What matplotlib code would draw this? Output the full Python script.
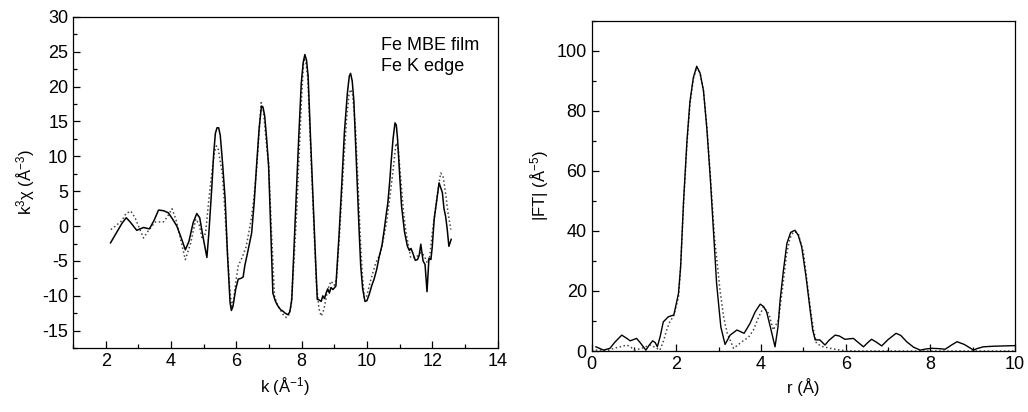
import matplotlib
matplotlib.use('Agg')
import matplotlib.pyplot as plt
from matplotlib.ticker import MultipleLocator

plt.rcParams['font.family'] = ['Liberation Sans', 'DejaVu Sans']
plt.rcParams['mathtext.fontset'] = 'custom'
plt.rcParams['mathtext.rm'] = 'Liberation Sans'
plt.rcParams['mathtext.it'] = 'Liberation Sans'
plt.rcParams['mathtext.default'] = 'regular'
plt.rcParams['axes.unicode_minus'] = False

# k-space, experiment (solid)
k_exp = [2.15, 2.35, 2.5, 2.63, 2.75, 2.95, 3.16, 3.34, 3.48, 3.62, 3.78, 3.92, 4.05,
         4.18, 4.3, 4.44, 4.55, 4.68, 4.79, 4.88, 4.98, 5.1, 5.16, 5.25, 5.31, 5.36,
         5.41, 5.46, 5.51, 5.58, 5.66, 5.73, 5.81, 5.85, 5.9, 5.98, 6.06, 6.14, 6.21,
         6.26, 6.36, 6.47, 6.55, 6.62, 6.7, 6.77, 6.82, 6.87, 6.93, 6.99, 7.05, 7.12,
         7.2, 7.28, 7.36, 7.43, 7.5, 7.58, 7.64, 7.7, 7.76, 7.83, 7.91, 7.99, 8.05,
         8.1, 8.15, 8.2, 8.27, 8.35, 8.42, 8.48, 8.54, 8.6, 8.65, 8.7, 8.75, 8.8,
         8.85, 8.9, 8.96, 9.05, 9.15, 9.23, 9.31, 9.4, 9.46, 9.5, 9.55, 9.6, 9.66,
         9.71, 9.76, 9.81, 9.87, 9.94, 10.0, 10.07, 10.15, 10.22, 10.3, 10.38, 10.46,
         10.53, 10.6, 10.64, 10.7, 10.74, 10.8, 10.86, 10.9, 10.94, 11.0, 11.06, 11.15,
         11.24, 11.3, 11.35, 11.4, 11.48, 11.55, 11.6, 11.65, 11.72, 11.78, 11.84,
         11.9, 11.96, 12.0, 12.06, 12.14, 12.21, 12.26, 12.31, 12.36, 12.41, 12.46,
         12.51, 12.58]
chi_exp = [-2.4, -0.8, 0.4, 1.2, 0.6, -0.6, -0.2, -0.4, 0.8, 2.3, 2.2, 1.9, 1.0,
           0.0, -1.5, -3.4, -2.2, 0.5, 1.8, 1.2, -1.5, -4.5, -1.0, 5.5, 10.5, 13.3,
           14.1, 14.1, 13.0, 9.0, 3.8, -4.0, -11.0, -12.1, -11.5, -9.1, -7.6, -7.5, -7.3,
           -5.7, -3.5, -1.0, 3.5, 8.6, 14.0, 17.2, 17.0, 15.8, 12.5, 8.6, 0.0, -9.6,
           -10.8, -11.5, -12.0, -12.2, -12.5, -12.7, -12.3, -10.5, -4.0, 3.8, 12.5, 20.5, 23.5,
           24.6, 23.8, 21.5, 13.0, 3.8, -4.0, -10.5, -10.6, -10.8, -10.0, -10.4, -9.6, -9.0,
           -9.6, -8.8, -9.1, -8.6, -1.0, 6.0, 13.4, 19.0, 21.5, 21.9, 20.8, 18.0, 11.0,
           4.8, -0.5, -5.7, -9.0, -10.8, -10.7, -9.8, -8.5, -7.6, -6.2, -4.3, -2.8,
           -0.5, 2.0, 3.3, 6.5, 9.1, 12.5, 14.8, 14.5, 12.4, 7.5, 2.9, -0.8,
           -2.9, -3.5, -3.2, -3.8, -4.9, -4.8, -4.2, -2.6, -5.0, -5.5, -9.4,
           -4.6, -4.8, -3.0, 1.0, 3.8, 6.2, 5.5, 4.8, 2.5, 1.4, -0.5,
           -2.9, -1.9]

# k-space, fit (dotted)
k_fit = [2.16, 2.3, 2.5, 2.62, 2.77, 2.9, 3.05, 3.16, 3.3, 3.52, 3.77, 3.9, 4.03, 4.15,
         4.3, 4.44, 4.6, 4.76, 4.86, 4.96, 5.06, 5.16, 5.26, 5.33, 5.39, 5.45, 5.5,
         5.57, 5.64, 5.72, 5.8, 5.86, 5.92, 6.0, 6.06, 6.18, 6.3, 6.4, 6.47, 6.55, 6.62,
         6.7, 6.76, 6.82, 6.88, 6.94, 6.99, 7.08, 7.17, 7.26, 7.35, 7.45, 7.53, 7.6,
         7.68, 7.76, 7.85, 7.93, 8.0, 8.07, 8.13, 8.19, 8.27, 8.35, 8.45, 8.53, 8.6,
         8.68, 8.8, 8.9, 9.0, 9.07, 9.15, 9.22, 9.3, 9.38, 9.45, 9.5, 9.56, 9.65,
         9.72, 9.8, 9.86, 9.92, 10.0, 10.1, 10.27, 10.4, 10.5, 10.6, 10.7, 10.8,
         10.89, 10.96, 11.05, 11.12, 11.2, 11.34, 11.5, 11.65, 11.75, 11.85, 11.92,
         12.0, 12.1, 12.2, 12.26, 12.33, 12.4, 12.48, 12.57]
chi_fit = [-0.5, 0.0, 0.8, 1.8, 2.15, 1.2, -0.5, -1.7, -0.7, 0.6, 0.6, 1.4, 2.5, 1.0,
           -2.0, -4.8, -2.5, 1.0, 0.3, -1.9, -1.0, 3.8, 8.0, 10.5, 11.5, 11.0, 9.5,
           7.6, 3.0, -3.0, -9.0, -11.5, -10.5, -7.5, -5.7, -4.5, -3.0, -0.5, 1.4, 4.5, 8.0,
           13.5, 17.7, 17.0, 14.0, 11.0, 9.0, -1.0, -10.0, -11.3, -12.0, -12.8, -13.1, -12.8,
           -11.4, -5.5, 2.0, 11.0, 18.5, 24.1, 23.5, 21.2, 12.0, 3.0, -8.0, -11.8, -12.9,
           -12.0, -9.1, -7.9, -8.5, -7.5, -2.0, 3.5, 10.0, 15.5, 18.8, 19.6, 19.0, 14.0,
           7.0, -2.0, -7.0, -10.3, -10.0, -8.0, -5.3, -4.0, -2.0, 0.5, 4.0, 8.0,
           11.9, 11.0, 6.0, 2.0, -1.0, -4.5, -4.5, -3.8, -4.2, -5.3, -4.5,
           -1.0, 2.5, 6.0, 7.6, 7.2, 5.0, 2.0, -0.5]

# r-space, experiment (solid)
r_exp = [0.1, 0.28, 0.43, 0.55, 0.71, 0.82, 0.91, 1.06, 1.15, 1.28, 1.36, 1.44, 1.5,
         1.55, 1.62, 1.69, 1.81, 1.94, 2.05, 2.1, 2.17, 2.25, 2.32, 2.4, 2.48, 2.56,
         2.64, 2.72, 2.8, 2.88, 2.95, 3.05, 3.15, 3.27, 3.43, 3.6, 3.74, 3.86, 3.98,
         4.06, 4.13, 4.22, 4.33, 4.4, 4.45, 4.53, 4.61, 4.7, 4.8, 4.88, 4.96, 5.06,
         5.16, 5.22, 5.28, 5.39, 5.51, 5.6, 5.75, 5.85, 5.98, 6.18, 6.3, 6.42, 6.52,
         6.61, 6.72, 6.85, 7.0, 7.19, 7.3, 7.44, 7.6, 7.76, 7.9, 8.03, 8.2, 8.35,
         8.5, 8.63, 8.8, 9.02, 9.1, 9.25, 9.5, 10.0]
ft_exp = [1.4, 0.3, 0.9, 3.0, 5.3, 4.3, 3.4, 4.2, 2.7, 0.3, 2.0, 3.4, 2.8,
          1.4, 5.0, 9.7, 11.4, 12.0, 19.2, 28.0, 50.0, 70.0, 83.0, 91.0, 94.8, 92.5,
          86.7, 74.0, 57.8, 39.0, 22.5, 8.0, 2.2, 5.3, 7.0, 5.9, 9.2, 13.0, 15.6,
          14.8, 13.1, 8.0, 1.4, 8.0, 16.9, 27.0, 35.8, 39.5, 40.2, 38.5, 34.7, 25.0,
          13.6, 7.0, 3.7, 3.7, 2.0, 3.5, 5.3, 5.0, 3.9, 4.2, 2.8, 1.4, 2.8,
          3.9, 3.0, 1.7, 3.8, 5.9, 5.2, 3.1, 1.3, 0.3, 0.7, 0.9, 0.8, 0.6,
          2.0, 3.1, 2.2, 0.3, 0.8, 1.4, 1.6, 1.8]

# r-space, fit (dotted)
r_fit = [0.0, 0.4, 0.55, 0.67, 0.83, 0.93, 1.02, 1.2, 1.38, 1.5, 1.61, 1.7, 1.77,
         1.85, 1.93, 2.05, 2.1, 2.17, 2.25, 2.32, 2.4, 2.48, 2.56, 2.64, 2.72, 2.8,
         2.9, 3.03, 3.12, 3.2, 3.35, 3.45, 3.58, 3.7, 3.82, 3.95, 4.06, 4.18, 4.29,
         4.41, 4.5, 4.6, 4.68, 4.76, 4.82, 4.88, 5.0, 5.08, 5.16, 5.24, 5.31, 5.45,
         5.63, 5.87, 6.18, 8.0, 10.0]
ft_fit = [0.3, 0.3, 1.0, 1.4, 2.0, 1.2, 0.3, 1.0, 2.0, 1.2, 0.3, 3.5, 7.0,
          10.0, 11.4, 18.0, 28.0, 49.0, 69.0, 82.0, 90.5, 94.5, 92.5, 86.5, 74.5, 58.9,
          38.0, 20.3, 11.0, 6.0, 0.9, 2.0, 3.4, 4.5, 7.0, 11.5, 14.7, 12.5, 7.0,
          10.3, 20.0, 32.0, 37.5, 39.6, 39.6, 39.0, 33.0, 24.0, 14.7, 7.0, 2.5, 1.5,
          0.9, 0.3, 0.0, 0.0, 0.0]

fig = plt.figure(figsize=(10.28, 4.12), dpi=100)
ax1 = fig.add_axes([0.071, 0.155, 0.413, 0.804])
ax2 = fig.add_axes([0.5756, 0.148, 0.4118, 0.802])

ax1.plot(k_fit, chi_fit, ':', color='#444444', lw=1.1)
ax1.plot(k_exp, chi_exp, '-', color='black', lw=1.1)
ax1.set_xlim(1, 14)
ax1.set_ylim(-17.5, 30)
ax1.xaxis.set_major_locator(MultipleLocator(2))
ax1.xaxis.set_minor_locator(MultipleLocator(1))
ax1.yaxis.set_major_locator(MultipleLocator(5))
ax1.yaxis.set_minor_locator(MultipleLocator(2.5))
ax1.set_xlabel('k (Å$^{-1}$)', fontsize=12)
ax1.set_ylabel('k$^3$χ (Å$^{-3}$)', fontsize=12)
ax1.text(0.726, 0.915, 'Fe MBE film', transform=ax1.transAxes, fontsize=13, va='center')
ax1.text(0.726, 0.85, 'Fe K edge', transform=ax1.transAxes, fontsize=13, va='center')

ax2.plot(r_fit, ft_fit, ':', color='#444444', lw=1.1)
ax2.plot(r_exp, ft_exp, '-', color='black', lw=1.0)
ax2.set_xlim(0, 10)
ax2.set_ylim(0, 110)
ax2.xaxis.set_major_locator(MultipleLocator(2))
ax2.xaxis.set_minor_locator(MultipleLocator(1))
ax2.yaxis.set_major_locator(MultipleLocator(20))
ax2.yaxis.set_minor_locator(MultipleLocator(10))
ax2.set_xlabel('r (Å)', fontsize=12)
ax2.set_ylabel('|FT| (Å$^{-5}$)', fontsize=12)

for ax in (ax1, ax2):
    ax.tick_params(which='major', direction='in', length=5, labelsize=13, width=0.9)
    ax.tick_params(which='minor', direction='in', length=3, width=0.9)
    for s in ax.spines.values():
        s.set_linewidth(0.9)

fig.savefig('out.png', dpi=100)
